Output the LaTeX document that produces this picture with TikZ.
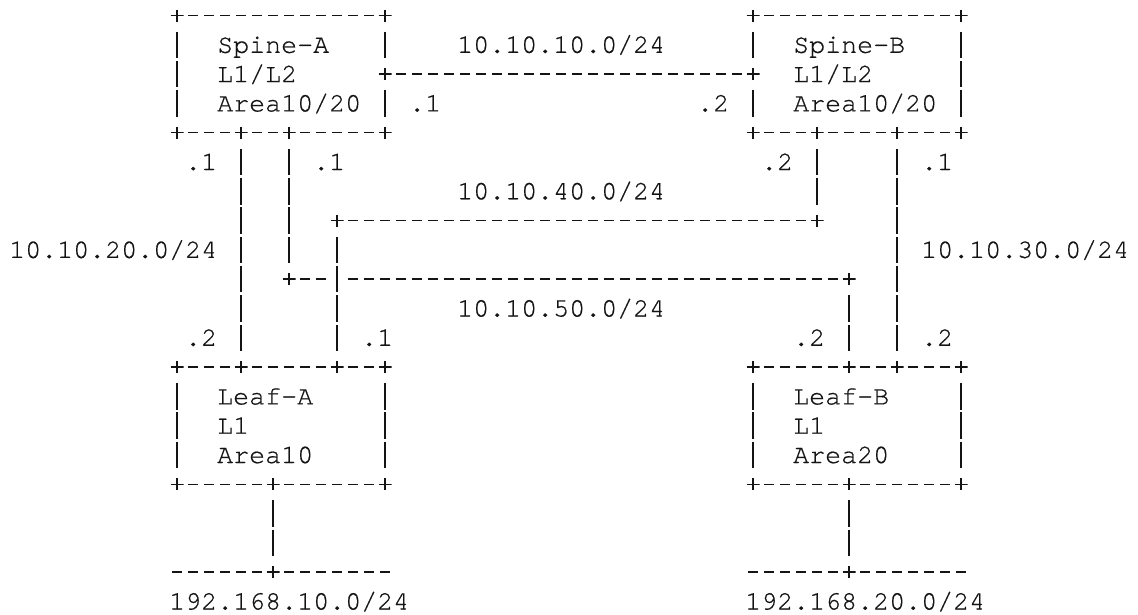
\documentclass[tikz,border=0pt]{standalone}
\usepackage{fontspec}
\IfFontExistsTF{texgyrecursor-regular.otf}
  {\newfontfamily\netfont{texgyrecursor-regular.otf}[RawFeature={embolden=0.6}]}
  {\newfontfamily\netfont{Liberation Mono}}
\colorlet{inkc}{black!92}
\begin{document}
\begin{tikzpicture}[x=16pt, y=-29.3pt,
  dashrun/.style={draw=inkc, line width=1.45pt, dash pattern=on 10pt off 6pt,
    dash phase=13pt, shorten <=8pt, shorten >=8pt},
  piperun/.style={draw=inkc, line width=1.7pt, dash pattern=on 26.5pt off 2.8pt,
    dash phase=27.9pt, shorten <=14.65pt, shorten >=14.65pt},
  junction/.style={rectangle, inner sep=0pt, minimum width=13pt, minimum height=12pt,
    path picture={\draw[inkc, line width=1.45pt]
      (path picture bounding box.west) -- (path picture bounding box.east)
      (path picture bounding box.north) -- (path picture bounding box.south);}},
  txt/.style={font=\netfont\fontsize{26.667pt}{29.3pt}\selectfont, text=inkc,
    inner sep=0pt, anchor=base west, yshift=-8pt}]

\fill[white] (0pt,0pt) rectangle (1138pt,-614pt);
\useasboundingbox (0pt,0pt) rectangle (1138pt,-614pt);

\begin{scope}[shift={(17pt,-15.5pt)}]
  % ---- junctions: Spine-A box
  \node[junction] (sa-nw) at (10,0) {};
  \node[junction] (sa-ne) at (23,0) {};
  \node[junction] (sa-e)  at (23,2) {};
  \node[junction] (sa-sw) at (10,4) {};
  \node[junction] (sa-s1) at (14,4) {};
  \node[junction] (sa-s2) at (17,4) {};
  \node[junction] (sa-se) at (23,4) {};
  % ---- Spine-B box
  \node[junction] (sb-nw) at (46,0) {};
  \node[junction] (sb-ne) at (59,0) {};
  \node[junction] (sb-w)  at (46,2) {};
  \node[junction] (sb-sw) at (46,4) {};
  \node[junction] (sb-s1) at (50,4) {};
  \node[junction] (sb-s2) at (55,4) {};
  \node[junction] (sb-se) at (59,4) {};
  % ---- Leaf-A box
  \node[junction] (la-nw) at (10,12) {};
  \node[junction] (la-n1) at (14,12) {};
  \node[junction] (la-n2) at (20,12) {};
  \node[junction] (la-ne) at (23,12) {};
  \node[junction] (la-sw) at (10,16) {};
  \node[junction] (la-s)  at (16,16) {};
  \node[junction] (la-se) at (23,16) {};
  % ---- Leaf-B box
  \node[junction] (lb-nw) at (46,12) {};
  \node[junction] (lb-n1) at (52,12) {};
  \node[junction] (lb-n2) at (55,12) {};
  \node[junction] (lb-ne) at (59,12) {};
  \node[junction] (lb-sw) at (46,16) {};
  \node[junction] (lb-s)  at (52,16) {};
  \node[junction] (lb-se) at (59,16) {};
  % ---- transit links and LAN segments
  \node[junction] (l40-w) at (20,7) {};
  \node[junction] (l40-e) at (50,7) {};
  \node[junction] (l50-w) at (17,9) {};
  \node[junction] (l50-e) at (52,9) {};
  \coordinate (x50) at (20,9);
  \node[junction] (lanA) at (16,19) {};
  \coordinate (lanA-w) at (9,19);
  \coordinate (lanA-e) at (24,19);
  \node[junction] (lanB) at (52,19) {};
  \coordinate (lanB-w) at (45,19);
  \coordinate (lanB-e) at (60,19);

  % ---- horizontal runs
  \foreach \a/\b in {sa-nw/sa-ne, sa-sw/sa-s1, sa-s1/sa-s2, sa-s2/sa-se,
                     sb-nw/sb-ne, sb-sw/sb-s1, sb-s1/sb-s2, sb-s2/sb-se,
                     sa-e/sb-w,
                     la-nw/la-n1, la-n1/la-n2, la-n2/la-ne, la-sw/la-s, la-s/la-se,
                     lb-nw/lb-n1, lb-n1/lb-n2, lb-n2/lb-ne, lb-sw/lb-s, lb-s/lb-se,
                     l40-w/l40-e, l50-w/x50, x50/l50-e,
                     lanA-w/lanA, lanA/lanA-e, lanB-w/lanB, lanB/lanB-e}
    \draw[dashrun] (\a.center) -- (\b.center);

  % ---- vertical runs
  \foreach \a/\b in {sa-nw/sa-sw, sa-ne/sa-e, sa-e/sa-se,
                     sb-nw/sb-w, sb-w/sb-sw, sb-ne/sb-se,
                     sa-s1/la-n1, sa-s2/l50-w, l40-w/la-n2,
                     sb-s1/l40-e, l50-e/lb-n1, sb-s2/lb-n2,
                     la-nw/la-sw, la-ne/la-se, lb-nw/lb-sw, lb-ne/lb-se,
                     la-s/lanA, lb-s/lanB}
    \draw[piperun] (\a.center) -- (\b.center);

  % ---- router texts
  \node[txt] (sa-name) at (12.5,1) {Spine-A};
  \node[txt] (sa-lvl)  at (12.5,2) {L1/L2};
  \node[txt] (sa-area) at (12.5,3) {Area10/20};
  \node[txt] (sb-name) at (48.5,1) {Spine-B};
  \node[txt] (sb-lvl)  at (48.5,2) {L1/L2};
  \node[txt] (sb-area) at (48.5,3) {Area10/20};
  \node[txt] (la-name) at (12.5,13) {Leaf-A};
  \node[txt] (la-lvl)  at (12.5,14) {L1};
  \node[txt] (la-area) at (12.5,15) {Area10};
  \node[txt] (lb-name) at (48.5,13) {Leaf-B};
  \node[txt] (lb-lvl)  at (48.5,14) {L1};
  \node[txt] (lb-area) at (48.5,15) {Area20};

  % ---- subnet texts
  \node[txt] (n10) at (27.5,1) {10.10.10.0/24};
  \node[txt] (n40) at (27.5,6) {10.10.40.0/24};
  \node[txt] (n50) at (27.5,10) {10.10.50.0/24};
  \node[txt] (n20) at (-0.5,8) {10.10.20.0/24};
  \node[txt] (n30) at (56.5,8) {10.10.30.0/24};
  \node[txt] (lanA-net) at (9.5,20) {192.168.10.0/24};
  \node[txt] (lanB-net) at (45.5,20) {192.168.20.0/24};

  % ---- interface addresses
  \node[txt] (if-sa-10) at (24.5,3) {.1};
  \node[txt] (if-sb-10) at (42.5,3) {.2};
  \node[txt] (if-sa-20) at (10.5,5) {.1};
  \node[txt] (if-sa-50) at (18.5,5) {.1};
  \node[txt] (if-sb-40) at (46.5,5) {.2};
  \node[txt] (if-sb-30) at (56.5,5) {.1};
  \node[txt] (if-la-20) at (10.5,11) {.2};
  \node[txt] (if-la-40) at (21.5,11) {.1};
  \node[txt] (if-lb-50) at (48.5,11) {.2};
  \node[txt] (if-lb-30) at (56.5,11) {.2};
\end{scope}
\end{tikzpicture}
\end{document}
